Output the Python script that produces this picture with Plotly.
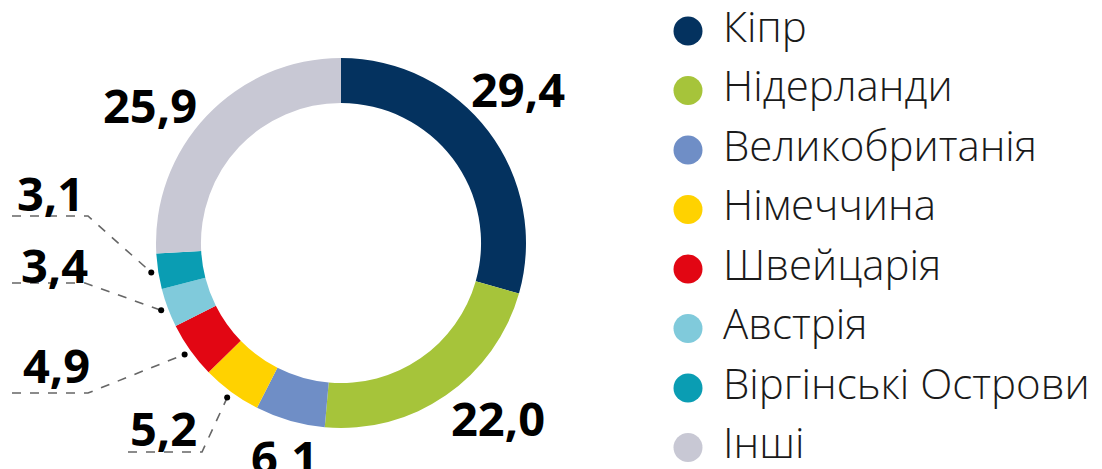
import numpy as np
import plotly.graph_objects as go

# data
countries = ["Кіпр", "Нідерланди", "Великобританія", "Німеччина",
             "Швейцарія", "Австрія", "Віргінські Острови", "Інші"]
shares = [29.4, 22.0, 6.1, 5.2, 4.9, 3.4, 3.1, 25.9]

colors = ["#04325f", "#a6c43a", "#6f8ec6", "#ffd200",
          "#e20613", "#80cadb", "#0a9db3", "#c8c8d4"]

W, H = 1102, 469
CX, CY, R = 341, 243, 185  # donut centre / outer radius in pixels


def px(x):
    return x / W


def py(y):
    return 1 - y / H


fig = go.Figure()

fig.add_trace(go.Pie(
    labels=countries, values=shares, sort=False, direction="clockwise",
    hole=0.757, marker=dict(colors=colors, line=dict(width=0)),
    textinfo="none", hoverinfo="label+value", showlegend=False,
    domain=dict(x=[px(CX - R), px(CX + R)], y=[py(CY + R), py(CY - R)]),
))

# legend built as a scatter so the dots can be big circles
rows = list(range(len(countries)))
fig.add_trace(go.Scatter(
    x=[688] * len(countries), y=rows, mode="markers",
    marker=dict(size=29, color=colors), hoverinfo="skip", showlegend=False,
))
fig.add_trace(go.Scatter(
    x=[723] * len(countries), y=rows, mode="text", text=countries,
    textposition="middle right",
    textfont=dict(family="Open Sans", size=42, color="#1a1a1a", weight=300),
    hoverinfo="skip", showlegend=False,
))

# value labels
label_pos = [(518, 89), (498, 418), (284, 457), (163, 428),
             (56, 365), (55, 265), (50, 193), (150, 105)]
for v, (lx, ly) in zip(shares, label_pos):
    fig.add_annotation(
        x=px(lx), y=py(ly), xref="paper", yref="paper", showarrow=False,
        text=f"{v:.1f}".replace(".", ","), xanchor="center", yanchor="middle",
        font=dict(family="Open Sans", size=47, color="#000000", weight="bold"),
    )

# leader lines for the small slices
ends = np.cumsum(shares) / 100 * 360
mids = ends - np.array(shares) / 100 * 360 / 2
leaders = {3: [(128, 452), (202, 452)],
           4: [(12, 393), (88, 393)],
           5: [(12, 283), (85, 283)],
           6: [(12, 216), (88, 216)]}
for i, pts in leaders.items():
    a = np.radians(mids[i])
    dx = CX + (R + 7) * np.sin(a)
    dy = CY - (R + 7) * np.cos(a)
    path = "M {} {} L {} {} L {} {}".format(
        px(pts[0][0]), py(pts[0][1]), px(pts[1][0]), py(pts[1][1]), px(dx), py(dy))
    fig.add_shape(type="path", path=path, xref="paper", yref="paper",
                  line=dict(color="#666666", width=1.6, dash="dash"))
    fig.add_shape(type="circle", xref="paper", yref="paper",
                  x0=px(dx - 3), x1=px(dx + 3), y0=py(dy + 3), y1=py(dy - 3),
                  fillcolor="#000000", line=dict(width=0))

top_px = 31
step = 59.5
fig.update_layout(
    width=W, height=H,
    margin=dict(l=0, r=0, t=0, b=0),
    paper_bgcolor="white", plot_bgcolor="white",
    xaxis=dict(range=[0, W], domain=[0, 1], visible=False, fixedrange=True),
    yaxis=dict(range=[(H - top_px) / step, -top_px / step], domain=[0, 1],
               visible=False, fixedrange=True),
)

# drop the default page margin so the figure sits at the window corner
fig.write_html("out.html", config={"displayModeBar": False},
               post_script="document.body.style.margin='0px';")
